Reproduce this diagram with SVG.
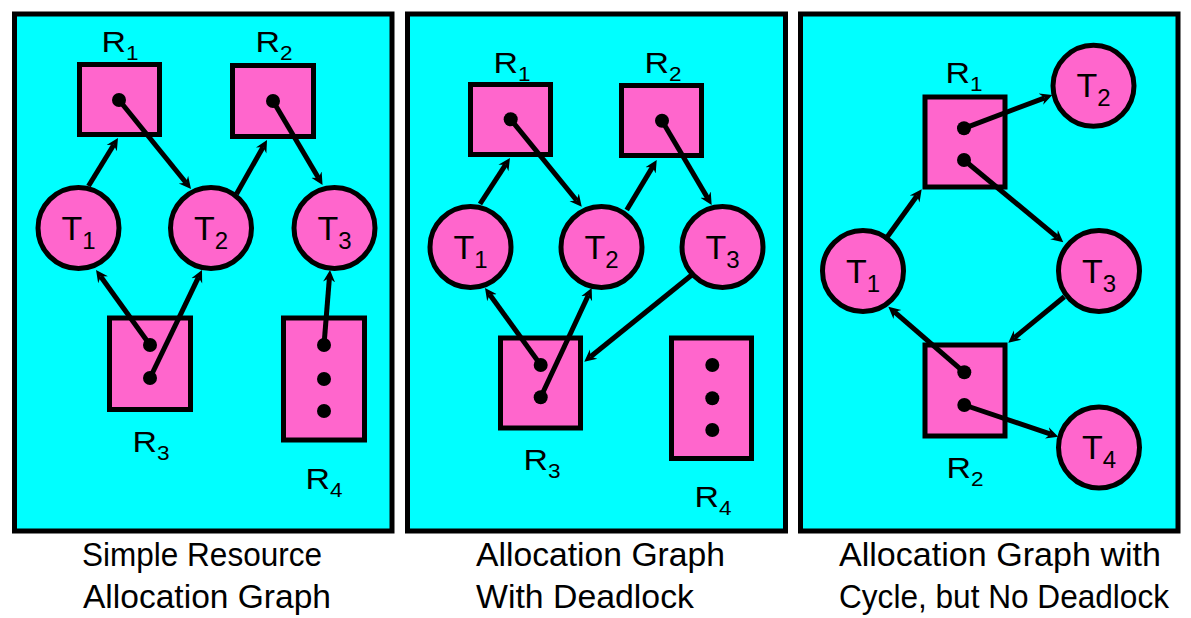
<svg xmlns="http://www.w3.org/2000/svg" width="1191" height="618" viewBox="0 0 1191 618">
<style>
.panel{fill:#00FFFF;stroke:#000;stroke-width:5}
.res{fill:#FF66CC;stroke:#000;stroke-width:5}
.thr{fill:#FF66CC;stroke:#000;stroke-width:5}
.dot{fill:#000}
.edge{stroke:#000;stroke-width:5;fill:none;marker-end:url(#arr)}
.tl{font-family:"Liberation Sans",Arial,sans-serif;font-size:34px;fill:#000;text-anchor:middle}
.rl{font-family:"Liberation Sans",Arial,sans-serif;font-size:30px;fill:#000;text-anchor:middle}
.cap{font-family:"Liberation Sans Narrow","Liberation Sans",Arial,sans-serif;font-size:33px;fill:#000}
</style>
<defs>
<marker id="arr" markerUnits="userSpaceOnUse" viewBox="0 -7 14 14" markerWidth="14" markerHeight="14" refX="4" refY="0" orient="auto">
<path d="M12,0 L0,-6 L4,0 L0,6 Z" fill="#000"/>
</marker>
</defs>

<rect class="panel" x="14.5" y="14" width="377.5" height="517"/>
<rect class="panel" x="407.5" y="14" width="378" height="517"/>
<rect class="panel" x="800.5" y="14" width="377.5" height="517"/>

<!-- Panel 1 -->
<g id="p1-R1"><rect class="res" x="79.5" y="64.5" width="80" height="70"/><circle class="dot" cx="119" cy="100" r="7"/><text class="rl" x="120" y="52" textLength="37" lengthAdjust="spacingAndGlyphs">R<tspan dy="8" font-size="20">1</tspan></text></g>
<g id="p1-R2"><rect class="res" x="232.5" y="65.5" width="81" height="71"/><circle class="dot" cx="273" cy="101" r="7"/><text class="rl" x="274" y="52" textLength="37" lengthAdjust="spacingAndGlyphs">R<tspan dy="8" font-size="20">2</tspan></text></g>
<g id="p1-R3"><rect class="res" x="109.5" y="318" width="81" height="91.5"/><circle class="dot" cx="150" cy="345" r="7"/><circle class="dot" cx="150" cy="378" r="7"/><text class="rl" x="151" y="452" textLength="37" lengthAdjust="spacingAndGlyphs">R<tspan dy="8" font-size="20">3</tspan></text></g>
<g id="p1-R4"><rect class="res" x="283.5" y="318" width="81" height="122"/><circle class="dot" cx="324" cy="345" r="7"/><circle class="dot" cx="324" cy="379" r="7"/><circle class="dot" cx="324" cy="411" r="7"/><text class="rl" x="324" y="489" textLength="37" lengthAdjust="spacingAndGlyphs">R<tspan dy="8" font-size="20">4</tspan></text></g>
<g id="p1-T1"><circle class="thr" cx="78.5" cy="228" r="40.5"/><text class="tl" x="78.5" y="239.5">T<tspan dy="9" font-size="24">1</tspan></text></g>
<g id="p1-T2"><circle class="thr" cx="211" cy="228" r="40.5"/><text class="tl" x="211" y="239.5">T<tspan dy="9" font-size="24">2</tspan></text></g>
<g id="p1-T3"><circle class="thr" cx="334.5" cy="228" r="40.5"/><text class="tl" x="334.5" y="239.5">T<tspan dy="9" font-size="24">3</tspan></text></g>

<!-- Panel 2 -->
<g id="p2-R1"><rect class="res" x="470.5" y="84.5" width="80" height="70"/><circle class="dot" cx="510.7" cy="119.3" r="7"/><text class="rl" x="512" y="73" textLength="37" lengthAdjust="spacingAndGlyphs">R<tspan dy="8" font-size="20">1</tspan></text></g>
<g id="p2-R2"><rect class="res" x="621.5" y="85.5" width="80" height="70"/><circle class="dot" cx="662" cy="120.7" r="7"/><text class="rl" x="663" y="73" textLength="37" lengthAdjust="spacingAndGlyphs">R<tspan dy="8" font-size="20">2</tspan></text></g>
<g id="p2-R3"><rect class="res" x="500.5" y="338" width="80" height="90"/><circle class="dot" cx="540.7" cy="365" r="7"/><circle class="dot" cx="540.7" cy="397.3" r="7"/><text class="rl" x="542" y="470" textLength="37" lengthAdjust="spacingAndGlyphs">R<tspan dy="8" font-size="20">3</tspan></text></g>
<g id="p2-R4"><rect class="res" x="671.5" y="338" width="80" height="120.5"/><circle class="dot" cx="712.3" cy="365" r="7"/><circle class="dot" cx="712.3" cy="398.3" r="7"/><circle class="dot" cx="712.3" cy="430" r="7"/><text class="rl" x="713" y="506.5" textLength="37" lengthAdjust="spacingAndGlyphs">R<tspan dy="8" font-size="20">4</tspan></text></g>
<g id="p2-T1"><circle class="thr" cx="470.5" cy="247" r="40.5"/><text class="tl" x="470.5" y="258.5">T<tspan dy="9" font-size="24">1</tspan></text></g>
<g id="p2-T2"><circle class="thr" cx="601.5" cy="247" r="40.5"/><text class="tl" x="601.5" y="258.5">T<tspan dy="9" font-size="24">2</tspan></text></g>
<g id="p2-T3"><circle class="thr" cx="722.5" cy="247" r="40.5"/><text class="tl" x="722.5" y="258.5">T<tspan dy="9" font-size="24">3</tspan></text></g>

<!-- Panel 3 -->
<g id="p3-R1"><rect class="res" x="925" y="97" width="80" height="90"/><circle class="dot" cx="964" cy="128.3" r="7"/><circle class="dot" cx="964" cy="160" r="7"/><text class="rl" x="964" y="82.5" textLength="37" lengthAdjust="spacingAndGlyphs">R<tspan dy="8" font-size="20">1</tspan></text></g>
<g id="p3-R2"><rect class="res" x="925" y="345" width="80" height="91"/><circle class="dot" cx="964.3" cy="372.3" r="7"/><circle class="dot" cx="964.3" cy="405" r="7"/><text class="rl" x="965" y="477.5" textLength="37" lengthAdjust="spacingAndGlyphs">R<tspan dy="8" font-size="20">2</tspan></text></g>
<g id="p3-T1"><circle class="thr" cx="863" cy="271" r="40.5"/><text class="tl" x="863" y="282.5">T<tspan dy="9" font-size="24">1</tspan></text></g>
<g id="p3-T2"><circle class="thr" cx="1093.5" cy="85.8" r="40.5"/><text class="tl" x="1093.5" y="97.3">T<tspan dy="9" font-size="24">2</tspan></text></g>
<g id="p3-T3"><circle class="thr" cx="1099" cy="271" r="40.5"/><text class="tl" x="1099" y="282.5">T<tspan dy="9" font-size="24">3</tspan></text></g>
<g id="p3-T4"><circle class="thr" cx="1099" cy="447.5" r="40.5"/><text class="tl" x="1099" y="459">T<tspan dy="9" font-size="24">4</tspan></text></g>

<g id="connectors">
<line class="edge" x1="88.5" y1="186" x2="113.8" y2="144.8"/>
<line class="edge" x1="119" y1="100" x2="186" y2="182.8"/>
<line class="edge" x1="236.5" y1="194" x2="263.1" y2="147"/>
<line class="edge" x1="273" y1="101" x2="318.5" y2="178.1"/>
<line class="edge" x1="150" y1="345" x2="100.7" y2="276.5"/>
<line class="edge" x1="150" y1="378" x2="198.5" y2="277.2"/>
<line class="edge" x1="324" y1="345" x2="329.4" y2="278"/>

<line class="edge" x1="480" y1="204" x2="505.6" y2="164.7"/>
<line class="edge" x1="510.7" y1="119.3" x2="576.7" y2="200.5"/>
<line class="edge" x1="626.7" y1="210" x2="652.6" y2="166.9"/>
<line class="edge" x1="662" y1="120.7" x2="707.6" y2="198.1"/>
<line class="edge" x1="540.7" y1="365" x2="489.7" y2="294.5"/>
<line class="edge" x1="540.7" y1="397.3" x2="588.3" y2="295.2"/>
<line class="edge" x1="691.7" y1="275" x2="590.5" y2="356.7"/>

<line class="edge" x1="964" y1="128.3" x2="1044.8" y2="97.8"/>
<line class="edge" x1="964" y1="160" x2="1057.1" y2="237.2"/>
<line class="edge" x1="885" y1="240" x2="917" y2="195.8"/>
<line class="edge" x1="964.3" y1="372.3" x2="894.4" y2="311.9"/>
<line class="edge" x1="1064.3" y1="296.7" x2="1014.5" y2="337.6"/>
<line class="edge" x1="964.3" y1="405" x2="1050.7" y2="434.1"/>
</g>

<g id="captions">
<text class="cap" x="82" y="566" textLength="240" lengthAdjust="spacingAndGlyphs">Simple Resource</text>
<text class="cap" x="83" y="608" textLength="248" lengthAdjust="spacingAndGlyphs">Allocation Graph</text>
<text class="cap" x="476" y="566" textLength="249" lengthAdjust="spacingAndGlyphs">Allocation Graph</text>
<text class="cap" x="476" y="608" textLength="218" lengthAdjust="spacingAndGlyphs">With Deadlock</text>
<text class="cap" x="839" y="566" textLength="322" lengthAdjust="spacingAndGlyphs">Allocation Graph with</text>
<text class="cap" x="839" y="608" textLength="330" lengthAdjust="spacingAndGlyphs">Cycle, but No Deadlock</text>
</g>
</svg>
